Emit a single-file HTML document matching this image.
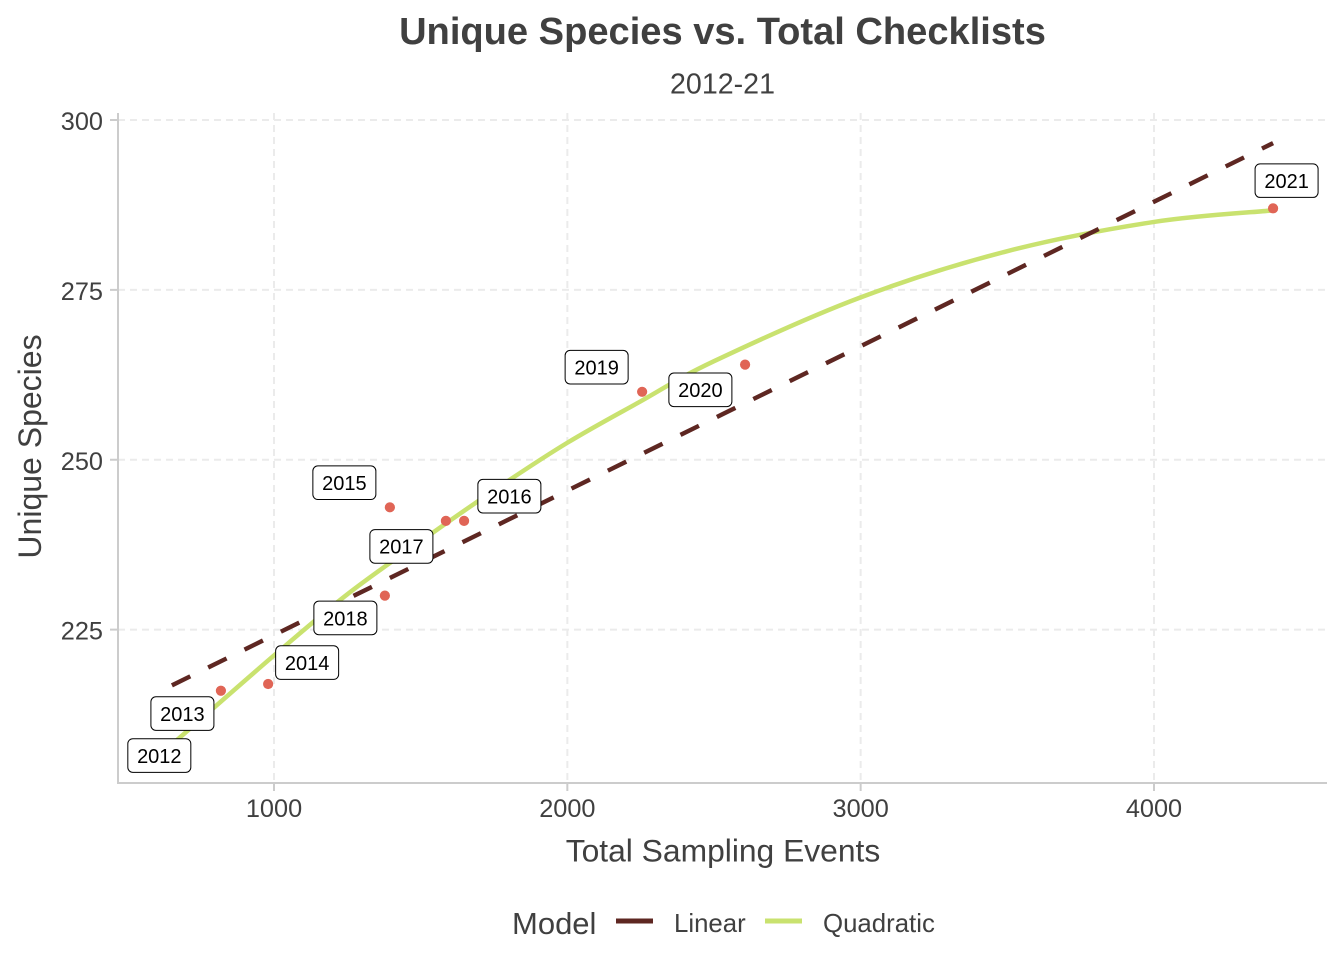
<!DOCTYPE html>
<html lang="en">
<head>
<meta charset="utf-8">
<title>Unique Species vs. Total Checklists</title>
<style>
html,body{margin:0;padding:0;background:#fff;}
svg{display:block;font-family:"Liberation Sans",Arial,sans-serif;}
</style>
</head>
<body>
<svg id="chart" xmlns="http://www.w3.org/2000/svg" width="1344" height="960" viewBox="0 0 1344 960">
  <rect x="0" y="0" width="1344" height="960" fill="#ffffff"/>
  <g id="grid"></g>
  <g id="axes"></g>
  <g id="series"></g>
  <g id="points"></g>
  <g id="labels"></g>
  <text x="722.5" y="44" text-anchor="middle" font-size="38.1" font-weight="700" fill="#404040">Unique Species vs. Total Checklists</text>
  <text x="722.5" y="93.5" text-anchor="middle" font-size="28.6" fill="#404040">2012-21</text>
  <text x="723" y="861.5" text-anchor="middle" font-size="31.8" fill="#404040">Total Sampling Events</text>
  <text transform="translate(41 446.5) rotate(-90)" text-anchor="middle" font-size="32" fill="#404040">Unique Species</text>
  <g>
    <text x="512" y="934" font-size="31" fill="#404040">Model</text>
    <g>
      <line x1="616" x2="653" y1="921" y2="921" stroke="#5e2722" stroke-width="5"/>
      <text x="674" y="932" font-size="25.8" fill="#404040">Linear</text>
    </g>
    <g>
      <line x1="765" x2="802" y1="921" y2="921" stroke="#c9e26f" stroke-width="5"/>
      <text x="823" y="932" font-size="25.8" fill="#404040">Quadratic</text>
    </g>
  </g>
</svg>
<script>
// Observations
const years = [2012, 2013, 2014, 2015, 2016, 2017, 2018, 2019, 2020, 2021];
const checklists = [652, 819, 980, 1395, 1648, 1586, 1378, 2255, 2606, 4406];
const species = [207, 216, 217, 243, 241, 241, 230, 260, 264, 287];

// Fitted model lines
const linearX = [652, 4406];
const linearY = [216.8, 296.6];
const quadraticX = [652, 1000, 1250, 1500, 1750, 2000, 2250, 2500, 3000, 3500, 4000, 4406];
const quadraticY = [208.1, 221.2, 230.2, 238.0, 245.5, 252.5, 258.6, 264.5, 273.9, 280.7, 285.0, 286.7];

// Tick labels
const xTicks = [1000, 2000, 3000, 4000];
const yTicks = [225, 250, 275, 300];

// Panel geometry and axis functions
const panel = { left: 118, right: 1327, top: 113, bottom: 783 };
function xScale(v) { return 274 + (v - 1000) * 0.29333; }
function yScale(v) { return 120 + (300 - v) * 6.795; }

// Repelled label placement, relative to each point, by year
const labelNudgeX = { 2012: -12.6, 2013: -38.5, 2014: 39, 2015: -45.5, 2016: 45.3, 2017: -44.5, 2018: -39.5, 2019: -45.5, 2020: -44.7, 2021: 13.5 };
const labelNudgeY = { 2012: 3.6, 2013: 22.8, 2014: -21.4, 2015: -24.6, 2016: -24.7, 2017: 25.5, 2018: 22.3, 2019: -24.6, 2020: 25.2, 2021: -27.7 };

const NS = 'http://www.w3.org/2000/svg';
function make(tag, parent, attrs, text) {
  const el = document.createElementNS(NS, tag);
  for (const k in attrs) el.setAttribute(k, attrs[k]);
  if (text !== undefined) el.textContent = text;
  parent.appendChild(el);
  return el;
}
function smoothPath(xs, ys) {
  const p = xs.map((x, i) => [xScale(x), yScale(ys[i])]);
  let d = 'M' + p[0][0].toFixed(2) + ' ' + p[0][1].toFixed(2);
  for (let i = 0; i < p.length - 1; i++) {
    const a = p[Math.max(i - 1, 0)], b = p[i], c = p[i + 1], e = p[Math.min(i + 2, p.length - 1)];
    const c1x = b[0] + (c[0] - a[0]) / 6, c1y = b[1] + (c[1] - a[1]) / 6;
    const c2x = c[0] - (e[0] - b[0]) / 6, c2y = c[1] - (e[1] - b[1]) / 6;
    d += 'C' + [c1x, c1y, c2x, c2y, c[0], c[1]].map(n => n.toFixed(2)).join(' ');
  }
  return d;
}

const gridG = document.getElementById('grid');
const axesG = document.getElementById('axes');
const seriesG = document.getElementById('series');
const pointsG = document.getElementById('points');
const labelsG = document.getElementById('labels');

yTicks.forEach(function (t) {
  const gl = make('line', gridG, { x1: panel.left, x2: panel.right, y1: yScale(t), y2: yScale(t), stroke: '#ebebeb', 'stroke-width': 2, 'stroke-dasharray': '7 5' });
  
  
  const tk = make('line', axesG, { x1: panel.left - 8, x2: panel.left, y1: yScale(t), y2: yScale(t), stroke: '#cccccc', 'stroke-width': 2 });
  
  
  const lb = make('text', axesG, { x: 103, y: yScale(t) + 10, 'text-anchor': 'end', 'font-size': 25.3, fill: '#404040' }, String(t));
  
  
});
xTicks.forEach(function (t) {
  const gl = make('line', gridG, { x1: xScale(t), x2: xScale(t), y1: panel.top, y2: panel.bottom, stroke: '#ebebeb', 'stroke-width': 2, 'stroke-dasharray': '7 5' });
  
  
  const tk = make('line', axesG, { x1: xScale(t), x2: xScale(t), y1: panel.bottom, y2: panel.bottom + 8, stroke: '#cccccc', 'stroke-width': 2 });
  
  
  const lb = make('text', axesG, { x: xScale(t), y: 817, 'text-anchor': 'middle', 'font-size': 25.3, fill: '#404040' }, String(t));
  
  
});
const axisLeft = make('line', axesG, { x1: panel.left, x2: panel.left, y1: panel.top, y2: panel.bottom + 1, stroke: '#cccccc', 'stroke-width': 2 });


const axisBottom = make('line', axesG, { x1: panel.left, x2: panel.right, y1: panel.bottom, y2: panel.bottom, stroke: '#cccccc', 'stroke-width': 2 });



const quadLine = make('path', seriesG, { d: smoothPath(quadraticX, quadraticY), fill: 'none', stroke: '#c9e26f', 'stroke-width': 4.5 });


const linLine = make('path', seriesG, { d: smoothPath(linearX, linearY), fill: 'none', stroke: '#5e2722', 'stroke-width': 4.4, 'stroke-dasharray': '20.5 20' });



years.forEach(function (yr, i) {
  const px = xScale(checklists[i]), py = yScale(species[i]);
  const dot = make('circle', pointsG, { cx: px, cy: py, r: 5.1, fill: '#e06556' });
  
  
  const g = make('g', labelsG, {});
  
  
  const cx = px + labelNudgeX[yr], cy = py + labelNudgeY[yr];
  const box = make('rect', g, { x: cx - 31.5, y: cy - 16.8, width: 63, height: 33.6, rx: 5, ry: 5, fill: '#ffffff', stroke: '#000000', 'stroke-width': 1 });
  
  
  const tx = make('text', g, { x: cx, y: cy + 7.3, 'text-anchor': 'middle', 'font-size': 20, fill: '#000000' }, String(yr));
  
  
});
</script>
</body>
</html>
